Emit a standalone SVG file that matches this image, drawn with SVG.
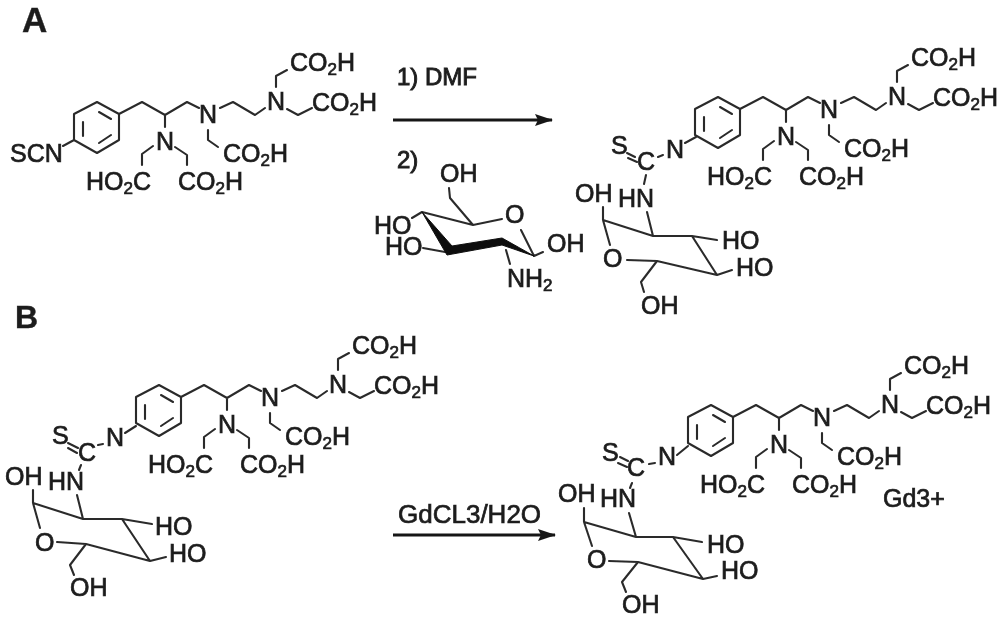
<svg xmlns="http://www.w3.org/2000/svg" width="1000" height="617" viewBox="0 0 1000 617">
<defs>
<style>
text{font-family:"Liberation Sans",Arial,sans-serif;font-size:25px;fill:#1c1c1c;stroke:#1c1c1c;stroke-width:.7px}
.sub{font-size:17px}
.lbl{font-weight:bold;font-size:32px;stroke-width:.4px}
.rx{font-size:26px}
.b{fill:none;stroke:#2c2c2c;stroke-width:2.1;stroke-linejoin:round;stroke-linecap:round}
.arr{fill:none;stroke:#151515;stroke-width:3}
</style>
<marker id="head" markerUnits="userSpaceOnUse" markerWidth="18" markerHeight="12" refX="17" refY="6" orient="auto"><path d="M0 0L18 6L0 12L3 6Z" fill="#151515"/></marker>
<filter id="soft" x="0" y="0" width="1" height="1"><feGaussianBlur stdDeviation="0.45"/></filter>
</defs>
<rect width="1000" height="617" fill="#fff"/>
<g filter="url(#soft)">
<text class="lbl" x="22" y="32" style="font-size:35px">A</text>
<text class="lbl" x="15" y="328">B</text>

<g id="ligand-a">
<path class="b" d="M97 102L119 114V140L97 153L74 140V114ZM83 122V136M99 112L111 119M111 135L99 143M119 114L142 102L165 115L187 102L199 108M165 115V127M153 146L142 154V165M175 147L187 155V165M208 130V140L218 147M220 108L233 102L255 115L265 108M276 87V76L287 70M287 109L298 115L312 108M63 146L74 140"/>
<text x="199" y="123">N</text><text x="156" y="150">N</text><text x="267" y="110">N</text>
<text x="10" y="162">SCN</text>
<text x="86" y="190">HO<tspan class="sub" dy="4">2</tspan><tspan dy="-4">C</tspan></text>
<text x="178" y="190">CO<tspan class="sub" dy="4">2</tspan><tspan dy="-4">H</tspan></text>
<text x="223" y="162">CO<tspan class="sub" dy="4">2</tspan><tspan dy="-4">H</tspan></text>
<text x="290" y="71">CO<tspan class="sub" dy="4">2</tspan><tspan dy="-4">H</tspan></text>
<text x="312" y="111">CO<tspan class="sub" dy="4">2</tspan><tspan dy="-4">H</tspan></text>
</g>

<g id="reaction-a">
<text x="397" y="85" class="rx" style="font-size:24px;stroke-width:.9px">1) DMF</text>
<path class="arr" marker-end="url(#head)" d="M393 120H552"/>
<text x="397" y="168" style="font-size:24px;stroke-width:.9px">2)</text>
</g>

<g id="glucosamine">
<path class="b" d="M449 188L450 198L473 225M422 212L473 225L502 219M521 230L534 256L543 252M506 250L510 264M412 218L422 212M423 248L445 252"/>
<path d="M422 212L452 246L502 238L534 256L502 245L447 255Z" fill="#111" stroke="#111" stroke-width="1" stroke-linejoin="round"/>
<text x="440" y="182">OH</text><text x="505" y="223">O</text><text x="547" y="252">OH</text>
<text x="374" y="234">HO</text><text x="385" y="255">HO</text>
<text x="507" y="287">NH<tspan class="sub" dy="4">2</tspan></text>
</g>

<g id="ligand-a-product" transform="translate(621 -5)">
<path class="b" d="M97 102L119 114V140L97 153L74 140V114ZM83 122V136M99 112L111 119M111 135L99 143M119 114L142 102L165 115L187 102L199 108M165 115V127M153 146L142 154V165M175 147L187 155V165M208 130V140L218 147M220 108L233 102L255 115L265 108M276 87V76L287 70M287 109L298 115L312 108"/>
<text x="199" y="123">N</text><text x="156" y="150">N</text><text x="267" y="110">N</text>
<text x="86" y="190">HO<tspan class="sub" dy="4">2</tspan><tspan dy="-4">C</tspan></text>
<text x="178" y="190">CO<tspan class="sub" dy="4">2</tspan><tspan dy="-4">H</tspan></text>
<text x="223" y="162">CO<tspan class="sub" dy="4">2</tspan><tspan dy="-4">H</tspan></text>
<text x="290" y="71">CO<tspan class="sub" dy="4">2</tspan><tspan dy="-4">H</tspan></text>
<text x="312" y="111">CO<tspan class="sub" dy="4">2</tspan><tspan dy="-4">H</tspan></text>
</g>
<g id="sugar-a-product">
<path class="b" d="M685 143L696 137M627 153L635 157M628 158L637 162M658 157L663 155M646 175L644 184M647 212L653 236M603 207V220L653 236H692L717 240M603 220L610 245M692 236L717 275L732 270M657 261L717 275M627 260L657 261L641 282L644 292"/>
<text x="611" y="154">S</text><text x="637" y="170">C</text><text x="666" y="158">N</text>
<text x="618" y="207">HN</text><text x="575" y="202">OH</text>
<text x="722" y="249">HO</text><text x="736" y="276">HO</text>
<text x="603" y="267">O</text><text x="641" y="314">OH</text>
</g>

<g id="ligand-b" transform="translate(62 283)">
<path class="b" d="M97 102L119 114V140L97 153L74 140V114ZM83 122V136M99 112L111 119M111 135L99 143M119 114L142 102L165 115L187 102L199 108M165 115V127M153 146L142 154V165M175 147L187 155V165M208 130V140L218 147M220 108L233 102L255 115L265 108M276 87V76L287 70M287 109L298 115L312 108"/>
<text x="199" y="123">N</text><text x="156" y="150">N</text><text x="267" y="110">N</text>
<text x="86" y="190">HO<tspan class="sub" dy="4">2</tspan><tspan dy="-4">C</tspan></text>
<text x="178" y="190">CO<tspan class="sub" dy="4">2</tspan><tspan dy="-4">H</tspan></text>
<text x="223" y="162">CO<tspan class="sub" dy="4">2</tspan><tspan dy="-4">H</tspan></text>
<text x="290" y="71">CO<tspan class="sub" dy="4">2</tspan><tspan dy="-4">H</tspan></text>
<text x="312" y="111">CO<tspan class="sub" dy="4">2</tspan><tspan dy="-4">H</tspan></text>
</g>
<g id="sugar-b">
<path class="b" d="M125 433L136 426M68 443L78 448M68 448L77 453M98 445L103 444M81 465L79 470M77 495L83 519M33 490V503L83 519H122L152 524M33 503L40 528M122 519L150 561L166 557M86 544L150 561M57 542L86 544L70 565L74 575"/>
<text x="52" y="444">S</text><text x="78" y="461">C</text><text x="106" y="446">N</text>
<text x="48" y="490">HN</text><text x="5" y="485">OH</text>
<text x="155" y="535">HO</text><text x="169" y="562">HO</text>
<text x="35" y="551">O</text><text x="70" y="596">OH</text>
</g>

<g id="reaction-b">
<text x="398" y="523" class="rx">GdCL3/H2O</text>
<path class="arr" marker-end="url(#head)" d="M393 535H555"/>
</g>

<g id="ligand-b-product" transform="translate(614 303)">
<path class="b" d="M97 102L119 114V140L97 153L74 140V114ZM83 122V136M99 112L111 119M111 135L99 143M119 114L142 102L165 115L187 102L199 108M165 115V127M153 146L142 154V165M175 147L187 155V165M208 130V140L218 147M220 108L233 102L255 115L265 108M276 87V76L287 70M287 109L298 115L312 108"/>
<text x="199" y="123">N</text><text x="156" y="150">N</text><text x="267" y="110">N</text>
<text x="86" y="190">HO<tspan class="sub" dy="4">2</tspan><tspan dy="-4">C</tspan></text>
<text x="178" y="190">CO<tspan class="sub" dy="4">2</tspan><tspan dy="-4">H</tspan></text>
<text x="223" y="162">CO<tspan class="sub" dy="4">2</tspan><tspan dy="-4">H</tspan></text>
<text x="290" y="71">CO<tspan class="sub" dy="4">2</tspan><tspan dy="-4">H</tspan></text>
<text x="312" y="111">CO<tspan class="sub" dy="4">2</tspan><tspan dy="-4">H</tspan></text>
</g>
<g id="sugar-b-product">
<path class="b" d="M677 455L688 446M620 457L628 461M618 463L627 467M649 464L655 463M632 483L630 488M629 513L636 537M584 508V522L636 537H673L702 542M584 522L592 546M673 537L703 579L717 576M638 562L703 579M609 561L638 562L622 582L626 592"/>
<text x="602" y="461">S</text><text x="627" y="476">C</text><text x="658" y="465">N</text>
<text x="600" y="507">HN</text><text x="558" y="502">OH</text>
<text x="707" y="553">HO</text><text x="721" y="579">HO</text>
<text x="587" y="568">O</text><text x="622" y="613">OH</text>
<text x="883" y="507">Gd3+</text>
</g>
</g>
</svg>
